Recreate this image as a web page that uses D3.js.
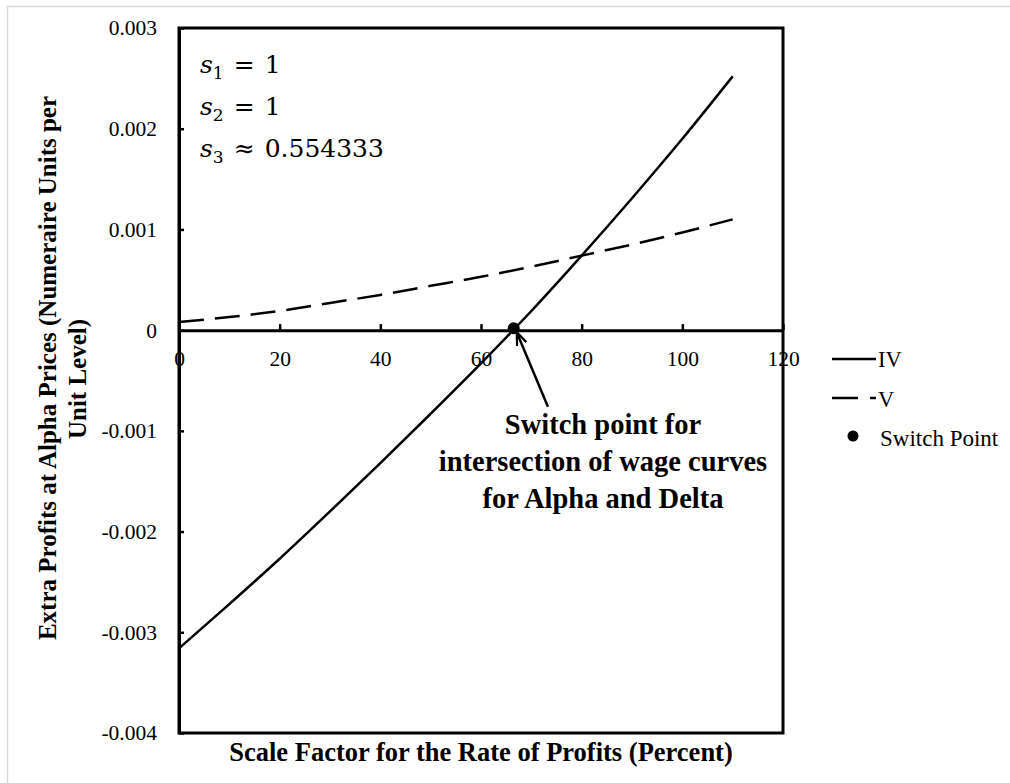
<!DOCTYPE html>
<html>
<head>
<meta charset="utf-8">
<script src="https://cdn.jsdelivr.net/npm/d3@7/dist/d3.min.js"></script>
<style>
  body { margin: 0; background: #fff; }
  text { font-family: "Liberation Serif", "Times New Roman", serif; fill: #000; }
</style>
</head>
<body>
<div id="chart"></div>
<script>
// values
const scaleFactor = [0, 10, 20, 30, 40, 50, 60, 70, 80, 90, 100, 110];
const seriesIV = [-0.00316, -0.00272, -0.00227, -0.00180, -0.00132, -0.00083, -0.00033, 0.00019, 0.00074, 0.00131, 0.00190, 0.00252];
const seriesV = [0.00008, 0.00013, 0.00019, 0.00027, 0.00035, 0.00044, 0.00053, 0.00063, 0.00074, 0.00085, 0.00097, 0.00110];
const switchPoint = [66.5, 0];
const xTicks = [0, 20, 40, 60, 80, 100, 120];
const yTicks = [-0.004, -0.003, -0.002, -0.001, 0, 0.001, 0.002, 0.003];
const yTickLabels = ["-0.004", "-0.003", "-0.002", "-0.001", "0", "0.001", "0.002", "0.003"];
const legendNames = ["IV", "V", "Switch Point"];
const sValues = [["1", "=", "1"], ["2", "=", "1"], ["3", "\u2248", "0.554333"]];
const noteLines = ["Switch point for", "intersection of wage curves", "for Alpha and Delta"];

var width = 1010, height = 783;
var plotLeft = 179, plotRight = 783, plotTop = 28, plotBottom = 733;

var svg = d3.select("#chart").append("svg")
  .attr("width", width)
  .attr("height", height);

// light frame round the whole picture
svg.append("rect")
  .attr("x", 7.5).attr("y", 6.5)
  .attr("width", 1010).attr("height", 800)
  .attr("fill", "none").attr("stroke", "#d9d9d9").attr("stroke-width", 1.5);

var x = d3.scaleLinear().domain([0, 120]).range([plotLeft, plotRight]);
var y = d3.scaleLinear().domain([-0.004, 0.003]).range([plotBottom, plotTop]);

// plot box
svg.append("rect")
  .attr("x", plotLeft).attr("y", plotTop)
  .attr("width", plotRight - plotLeft).attr("height", plotBottom - plotTop)
  .attr("fill", "none").attr("stroke", "#000").attr("stroke-width", 3);

var yAxis = svg.append("g")
  .attr("transform", "translate(" + plotLeft + ",0)")
  .call(d3.axisLeft(y).tickValues(yTicks)
    .tickFormat(function (d, i) { return yTickLabels[i]; })
    .tickSizeInner(-5).tickSizeOuter(0).tickPadding(22));

var xAxis = svg.append("g")
  .attr("transform", "translate(0," + y(0) + ")")
  .call(d3.axisBottom(x).tickValues(xTicks)
    .tickSizeInner(-6).tickSizeOuter(0).tickPadding(21));

[yAxis, xAxis].forEach(function (g) {
  g.select(".domain").attr("stroke", "#000").attr("stroke-width", 3);
  g.selectAll(".tick line").attr("stroke", "#000").attr("stroke-width", 2.5);
  g.selectAll(".tick text")
    .style("font-family", "'Liberation Serif', serif")
    .style("font-size", "21.5px")
    .attr("fill", "#000");
});

var line = d3.line()
  .x(function (d) { return x(d[0]); })
  .y(function (d) { return y(d[1]); })
  .curve(d3.curveMonotoneX);

svg.append("path")
  .datum(scaleFactor.map(function (s, i) { return [s, seriesIV[i]]; }))
  .attr("d", line)
  .attr("fill", "none").attr("stroke", "#000").attr("stroke-width", 2.5);

svg.append("path")
  .datum(scaleFactor.map(function (s, i) { return [s, seriesV[i]]; }))
  .attr("d", line)
  .attr("fill", "none").attr("stroke", "#000").attr("stroke-width", 2.5)
  .attr("stroke-dasharray", "25,11");

svg.append("circle")
  .attr("cx", x(switchPoint[0])).attr("cy", y(switchPoint[1]) - 2)
  .attr("r", 6).attr("fill", "#000");

// arrow from the note to the switch point
svg.append("defs").append("marker")
  .attr("id", "arrow")
  .attr("viewBox", "0 0 14 12")
  .attr("refX", 13).attr("refY", 6)
  .attr("markerWidth", 14).attr("markerHeight", 12)
  .attr("markerUnits", "userSpaceOnUse")
  .attr("orient", "auto")
  .append("path")
  .attr("d", "M0,1 L13,6 L0,11")
  .attr("fill", "none").attr("stroke", "#000").attr("stroke-width", 2.2);

svg.append("line")
  .attr("x1", x(73.3)).attr("y1", y(-0.00076))
  .attr("x2", x(switchPoint[0]) + 3).attr("y2", y(switchPoint[1]) + 2)
  .attr("stroke", "#000").attr("stroke-width", 2.5)
  .attr("marker-end", "url(#arrow)");

svg.append("g").selectAll("text")
  .data(noteLines)
  .enter().append("text")
  .attr("x", 603)
  .attr("y", function (d, i) { return 434 + i * 37; })
  .attr("text-anchor", "middle")
  .style("font-size", "28.5px").style("font-weight", "bold")
  .text(function (d) { return d; });

// s1, s2, s3 notes
var sText = svg.append("g").selectAll("text")
  .data(sValues)
  .enter().append("text")
  .attr("x", 200)
  .attr("y", function (d, i) { return 73 + i * 42; })
  .style("font-family", "'DejaVu Serif', serif")
  .style("font-size", "25px");
sText.append("tspan").style("font-style", "italic").text("s");
sText.append("tspan").attr("dy", 6).style("font-size", "17px").text(function (d) { return d[0]; });
sText.append("tspan").attr("dy", -6).attr("dx", 10).text(function (d) { return d[1]; });
sText.append("tspan").attr("dx", 10).text(function (d) { return d[2]; });

// axis titles
svg.append("text")
  .attr("x", 481).attr("y", 761)
  .attr("text-anchor", "middle")
  .style("font-size", "26.5px").style("font-weight", "bold")
  .text("Scale Factor for the Rate of Profits (Percent)");

svg.append("text")
  .attr("transform", "translate(56,368) rotate(-90)")
  .attr("text-anchor", "middle")
  .style("font-size", "25px").style("font-weight", "bold")
  .text("Extra Profits at Alpha Prices (Numeraire Units per");

svg.append("text")
  .attr("transform", "translate(86,379) rotate(-90)")
  .attr("text-anchor", "middle")
  .style("font-size", "25px").style("font-weight", "bold")
  .text("Unit Level)");

// legend
var legend = svg.append("g");
legend.append("line")
  .attr("x1", 832).attr("x2", 876).attr("y1", 359).attr("y2", 359)
  .attr("stroke", "#000").attr("stroke-width", 2.5);
legend.append("line")
  .attr("x1", 832).attr("x2", 876).attr("y1", 398).attr("y2", 398)
  .attr("stroke", "#000").attr("stroke-width", 2.5)
  .attr("stroke-dasharray", "26,12");
legend.append("circle")
  .attr("cx", 853).attr("cy", 436).attr("r", 5.5).attr("fill", "#000");
legend.selectAll("text")
  .data(legendNames)
  .enter().append("text")
  .attr("x", function (d, i) { return i === 2 ? 880 : 878; })
  .attr("y", function (d, i) { return 367 + i * 39.5; })
  .style("font-size", function (d, i) { return i === 2 ? "23px" : "22.5px"; })
  .text(function (d) { return d; });
</script>
</body>
</html>
